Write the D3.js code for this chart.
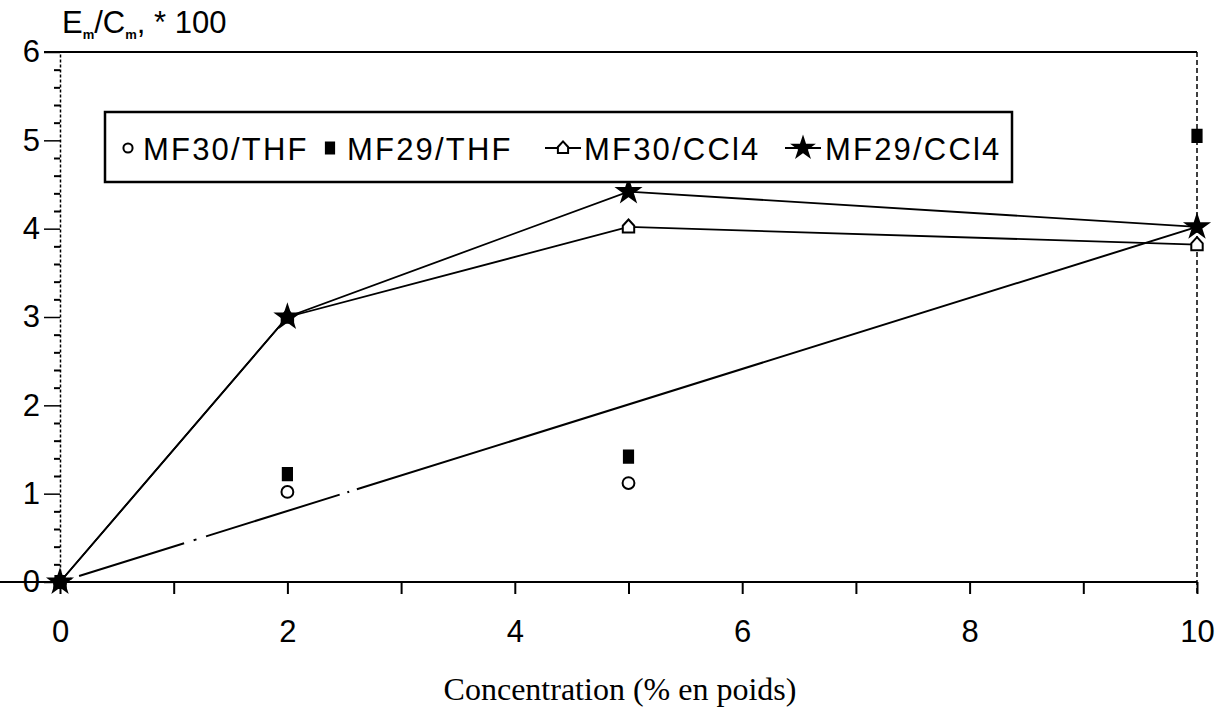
<!DOCTYPE html>
<html>
<head>
<meta charset="utf-8">
<script src="https://cdn.jsdelivr.net/npm/d3@7"></script>
<style>
  body { margin: 0; background: #fff; }
  svg { display: block; }
  .axis text { font-family: "Liberation Sans", Arial, sans-serif; font-size: 31px; fill: #000; }
  .axis line, .axis path { stroke: #000; }
  .legend text { font-family: "Liberation Sans", Arial, sans-serif; font-size: 31px; letter-spacing: 2.2px; fill: #000; }
</style>
</head>
<body>
<div id="chart"></div>
<script>
// concentrations (% en poids)
var concentration = [0, 2, 5, 10];

// E/C * 100 values
var mf30Thf = [0, 1.02, 1.12];          // x = 0, 2, 5
var mf29Thf = [0, 1.22, 1.42, 5.05];
var mf30CCl4 = [0, 3.0, 4.02, 3.82];
var mf29CCl4 = [0, 3.0, 4.42, 4.02];

// straight dash-dot line from origin to 10 %
var fitX = [0, 10];
var fitY = [0, 4.02];

var seriesNames = ["MF30/THF", "MF29/THF", "MF30/CCl4", "MF29/CCl4"];
var xTicks = [0, 1, 2, 3, 4, 5, 6, 7, 8, 9, 10];
var yTicks = [0, 1, 2, 3, 4, 5, 6];

var width = 1222, height = 710;

var svg = d3.select("#chart").append("svg")
    .attr("width", width)
    .attr("height", height);

var x = d3.scaleLinear().domain([0, 10]).range([60, 1197]);
var y = d3.scaleLinear().domain([0, 6]).range([582, 52]);

// frame: top solid, right dashed
svg.append("line")
    .attr("x1", 44).attr("x2", x(10))
    .attr("y1", y(6)).attr("y2", y(6))
    .attr("stroke", "#000").attr("stroke-width", 2);
svg.append("line")
    .attr("x1", x(10)).attr("x2", x(10))
    .attr("y1", y(6)).attr("y2", y(0) + 12)
    .attr("stroke", "#000").attr("stroke-width", 1.5)
    .attr("stroke-dasharray", "5 3");

// x axis
var xAxis = d3.axisBottom(x)
    .tickValues(xTicks)
    .tickSize(12)
    .tickSizeOuter(0)
    .tickPadding(26)
    .tickFormat(function(d) { return d % 2 === 0 ? d : ""; });

var gx = svg.append("g")
    .attr("class", "x-axis axis")
    .attr("transform", "translate(0," + y(0) + ")")
    .call(xAxis);
gx.select(".domain").attr("stroke-width", 2).attr("d", "M-18,0H" + x(10));
gx.selectAll(".tick line").attr("stroke-width", 2);

// y axis minor ticks
var minor = d3.range(0, 30).map(function(i) { return i * 0.2; }).filter(function(v) { return Math.abs(v - Math.round(v)) > 1e-6; });
var gyMinor = svg.append("g")
    .attr("class", "axis")
    .attr("transform", "translate(" + x(0) + ",0)")
    .call(d3.axisLeft(y).tickValues(minor).tickSize(6).tickSizeOuter(0).tickFormat(""));
gyMinor.select(".domain").attr("stroke-width", 1.5).attr("stroke-dasharray", "3 2");
gyMinor.selectAll(".tick line").attr("stroke-width", 2);

var gy = svg.append("g")
    .attr("class", "y-axis axis")
    .attr("transform", "translate(" + x(0) + ",0)")
    .call(d3.axisLeft(y).tickValues(yTicks).tickSize(16).tickSizeOuter(0).tickPadding(4).tickFormat(d3.format("d")));
gy.select(".domain").remove();
gy.selectAll(".tick line").attr("stroke-width", 1.5);

// y title
var yTitle = svg.append("text")
    .attr("x", 62).attr("y", 33)
    .style("font-family", "Liberation Sans, Arial, sans-serif")
    .style("font-size", "31px");
yTitle.append("tspan").text("E");
yTitle.append("tspan").attr("dy", 6).style("font-size", "13px").style("font-weight", "bold").text("m");
yTitle.append("tspan").attr("dy", -6).text("/C");
yTitle.append("tspan").attr("dy", 6).style("font-size", "13px").style("font-weight", "bold").text("m");
yTitle.append("tspan").attr("dy", -6).text(", *  100");

// x title
svg.append("text")
    .attr("x", 620).attr("y", 700)
    .attr("text-anchor", "middle")
    .style("font-family", "Liberation Serif, Times New Roman, serif")
    .style("font-size", "32px")
    .text("Concentration (% en poids)");

// lines
var line = d3.line()
    .x(function(d) { return x(d[0]); })
    .y(function(d) { return y(d[1]); });

svg.append("path")
    .datum(fitX.map(function(v, i) { return [v, fitY[i]]; }))
    .attr("d", line)
    .attr("fill", "none").attr("stroke", "#000").attr("stroke-width", 2)
    .attr("stroke-dasharray", "12 8 110 10 3 10 140 8 2 8 900");

[mf30CCl4, mf29CCl4].forEach(function(vals) {
    svg.append("path")
        .datum(vals.map(function(v, i) { return [concentration[i], v]; }))
        .attr("d", line)
        .attr("fill", "none").attr("stroke", "#000").attr("stroke-width", 1.8);
});

// marker shapes
var house = {
    draw: function(ctx, size) {
        var s = Math.sqrt(size) / 2;
        ctx.moveTo(0, -s * 1.3);
        ctx.lineTo(s, -s * 0.2);
        ctx.lineTo(s, s);
        ctx.lineTo(-s, s);
        ctx.lineTo(-s, -s * 0.2);
        ctx.closePath();
    }
};
var tallSquare = {
    draw: function(ctx, size) {
        var s = Math.sqrt(size) / 2;
        ctx.rect(-s * 0.75, -s, s * 1.5, s * 2);
    }
};

var markerStyles = [
    { type: d3.symbolCircle, size: 110, fill: "none", stroke: "#000" },
    { type: tallSquare, size: 150, fill: "#000", stroke: "#000" },
    { type: house, size: 130, fill: "#fff", stroke: "#000" },
    { type: d3.symbolStar, size: 150, fill: "#000", stroke: "#000" }
];

function drawMarkers(vals, m) {
    svg.append("g").selectAll("path")
        .data(vals.map(function(v, i) { return [concentration[i], v]; }))
        .enter().append("path")
        .attr("transform", function(d) { return "translate(" + x(d[0]) + "," + y(d[1]) + ")"; })
        .attr("d", d3.symbol().type(m.type).size(m.size))
        .attr("fill", m.fill)
        .attr("stroke", m.stroke)
        .attr("stroke-width", 2);
}

drawMarkers(mf30Thf, markerStyles[0]);
drawMarkers(mf29Thf, markerStyles[1]);
drawMarkers(mf30CCl4, markerStyles[2]);
drawMarkers(mf29CCl4, markerStyles[3]);

// legend
var legend = svg.append("g").attr("class", "legend");
legend.append("rect")
    .attr("x", 105).attr("y", 112)
    .attr("width", 907).attr("height", 70)
    .attr("fill", "#fff").attr("stroke", "#000").attr("stroke-width", 2.5);

var legendPos = [
    { sym: 128, text: 143, line: false },
    { sym: 330, text: 347, line: false },
    { sym: 563, text: 584, line: true },
    { sym: 803, text: 825, line: true }
];

seriesNames.forEach(function(name, i) {
    var p = legendPos[i], m = markerStyles[i];
    var cy = 148;
    if (p.line) {
        legend.append("line")
            .attr("x1", p.sym - 18).attr("x2", p.sym + 18)
            .attr("y1", cy).attr("y2", cy)
            .attr("stroke", "#000").attr("stroke-width", 1.8);
    }
    legend.append("path")
        .attr("transform", "translate(" + p.sym + "," + cy + ")")
        .attr("d", d3.symbol().type(m.type).size(m.size * (i === 0 ? 0.6 : 0.8)))
        .attr("fill", m.fill).attr("stroke", m.stroke).attr("stroke-width", 2);
    legend.append("text")
        .attr("x", p.text).attr("y", cy + 12)
        .text(name);
});
</script>
</body>
</html>
